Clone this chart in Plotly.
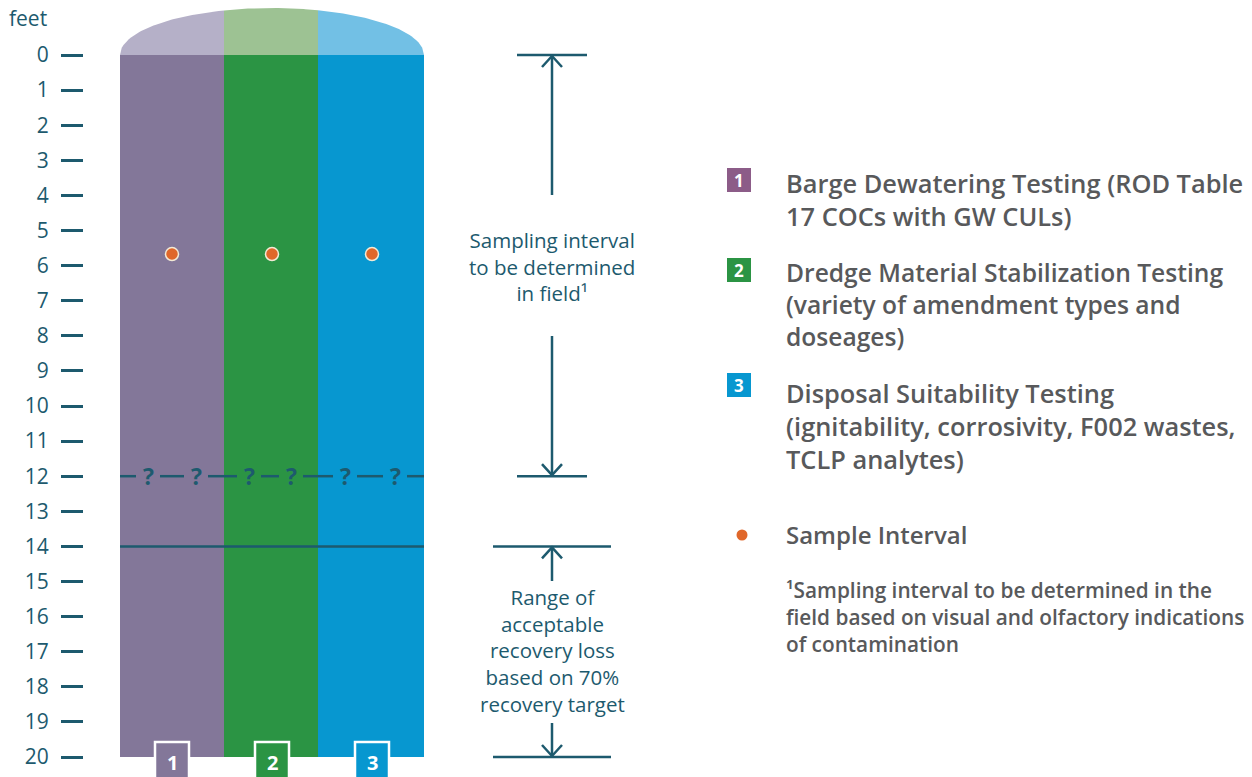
import numpy as np
import plotly.graph_objects as go

# ---------------- data ----------------
depth_ticks = list(range(0, 21))
depth_tick_labels = [str(v) for v in depth_ticks]
core_ids = ["1", "2", "3"]
core_top_ft = [0, 0, 0]
core_bottom_ft = [20, 20, 20]
sample_depth_ft = [5.67, 5.67, 5.67]
uncertain_depth_ft = 12
recovery_depth_ft = 14
total_depth_ft = 20
sampling_interval_top_ft = 0

legend_items = [
    ["Barge Dewatering Testing (ROD Table", "17 COCs with GW CULs)"],
    ["Dredge Material Stabilization Testing", "(variety of amendment types and", "doseages)"],
    ["Disposal Suitability Testing", "(ignitability, corrosivity, F002 wastes,", "TCLP analytes)"],
]
sample_legend = "Sample Interval"
footnote_lines = ["¹Sampling interval to be determined in the",
                  "field based on visual and olfactory indications",
                  "of contamination"]
sampling_text = ["Sampling interval", "to be determined", "in field¹"]
range_text = ["Range of", "acceptable", "recovery loss", "based on 70%", "recovery target"]
axis_title = "feet"

# ---------------- styles / layout ----------------
W, H = 1252, 777
Y0PX, PXFT = 55.0, 35.1
LEFT = 84
def fy(py):
    return (py - Y0PX) / PXFT
def xpaper(px):
    return (px - LEFT) / (W - LEFT)

TEAL = "#1d5a6e"
GRAY = "#58595b"
FONT = "Open Sans"
core_colors = ["#837799", "#2b9444", "#0797d0"]
dome_colors = ["#b5b0c8", "#9dc293", "#72c0e5"]
legend_box_colors = ["#8c5c88", "#2b9444", "#0797d0"]
DOT = "#e0672a"

core_edges = [120, 224, 318, 424]
core_centers = [(core_edges[i] + core_edges[i + 1]) / 2 for i in range(3)]
core_widths = [core_edges[i + 1] - core_edges[i] for i in range(3)]
dot_x = [172, 272, 372]

fig = go.Figure()

# dome
cx = (core_edges[0] + core_edges[-1]) / 2
a = (core_edges[-1] - core_edges[0]) / 2
b = 47 / PXFT
for i in range(3):
    xs = np.linspace(core_edges[i], core_edges[i + 1], 60)
    ys = -b * np.sqrt(np.clip(1 - ((xs - cx) / a) ** 2, 0, 1))
    px_ = list(xs) + [core_edges[i + 1], core_edges[i]]
    py_ = list(ys) + [0, 0]
    fig.add_trace(go.Scatter(x=px_, y=py_, fill="toself", fillcolor=dome_colors[i],
                             line=dict(width=0), mode="lines", hoverinfo="skip", showlegend=False))

# cores
fig.add_trace(go.Bar(x=core_centers, y=[core_bottom_ft[i] - core_top_ft[i] for i in range(3)],
                     base=core_top_ft, width=core_widths, marker=dict(color=core_colors, line=dict(width=0)),
                     showlegend=False, hoverinfo="skip"))

# sample dots
fig.add_trace(go.Scatter(x=dot_x, y=sample_depth_ft, mode="markers",
                         marker=dict(size=13, color=DOT, line=dict(color="#f3ead6", width=1.5)),
                         showlegend=False, hoverinfo="skip"))

shapes = []
annotations = []

# dashed uncertain line with ?
qx = [148, 196, 249, 291, 345, 395]
seg_start = core_edges[0]
for q in qx:
    shapes.append(dict(type="line", x0=seg_start, x1=q - 12, y0=uncertain_depth_ft, y1=uncertain_depth_ft,
                       line=dict(color=TEAL, width=2.5), xref="x", yref="y"))
    annotations.append(dict(x=q, y=uncertain_depth_ft, text="<b>?</b>", showarrow=False,
                            font=dict(family=FONT, size=23, color=TEAL), xanchor="center", yanchor="middle"))
    seg_start = q + 12
shapes.append(dict(type="line", x0=seg_start, x1=core_edges[-1], y0=uncertain_depth_ft, y1=uncertain_depth_ft,
                   line=dict(color=TEAL, width=2.5), xref="x", yref="y"))

# solid recovery line
shapes.append(dict(type="line", x0=core_edges[0], x1=core_edges[-1], y0=recovery_depth_ft, y1=recovery_depth_ft,
                   line=dict(color=TEAL, width=2.5), xref="x", yref="y"))

# bottom numbered boxes
box_w = 34
for i in range(3):
    c = dot_x[i]
    shapes.append(dict(type="rect", x0=c - box_w / 2, x1=c + box_w / 2, y0=fy(742), y1=fy(790),
                       fillcolor=core_colors[i], line=dict(color="white", width=2.5), xref="x", yref="y"))
    annotations.append(dict(x=c, y=fy(762), text="<b>%s</b>" % core_ids[i], showarrow=False,
                            font=dict(family=FONT, size=20, color="white"), xanchor="center", yanchor="middle"))

# arrows
AX = 552
def hline(x0, x1, yft):
    shapes.append(dict(type="line", x0=x0, x1=x1, y0=yft, y1=yft, line=dict(color=TEAL, width=2.5),
                       xref="x", yref="y"))
def vline(y0px, y1px):
    shapes.append(dict(type="line", x0=AX, x1=AX, y0=fy(y0px), y1=fy(y1px), line=dict(color=TEAL, width=2.5),
                       xref="x", yref="y"))
def chevron(tip_px, up):
    d = 11 if up else -11
    path = "M %f,%f L %f,%f L %f,%f" % (AX - 10, fy(tip_px + d), AX, fy(tip_px), AX + 10, fy(tip_px + d))
    shapes.append(dict(type="path", path=path, line=dict(color=TEAL, width=2.5), xref="x", yref="y"))

hline(517, 587, sampling_interval_top_ft)
vline(Y0PX + 1, 195)
chevron(Y0PX + 1, True)
tip12 = Y0PX + PXFT * uncertain_depth_ft - 1
vline(336, tip12)
chevron(tip12, False)
hline(517, 587, uncertain_depth_ft)

hline(493, 611, recovery_depth_ft)
tip14 = Y0PX + PXFT * recovery_depth_ft + 1
vline(tip14, 581)
chevron(tip14, True)
tip20 = Y0PX + PXFT * total_depth_ft - 1
vline(723, tip20)
chevron(tip20, False)
hline(493, 611, total_depth_ft)

annotations.append(dict(x=AX, y=fy(266), text="<br>".join(sampling_text), showarrow=False,
                        xanchor="center", yanchor="middle", align="center",
                        font=dict(family=FONT, size=20.5, color=TEAL)))
annotations.append(dict(x=AX, y=fy(650), text="<br>".join(range_text), showarrow=False,
                        xanchor="center", yanchor="middle", align="center",
                        font=dict(family=FONT, size=20.5, color=TEAL)))

# feet label
annotations.append(dict(x=xpaper(49), xref="paper", y=fy(18), text=axis_title, showarrow=False,
                        xanchor="right", yanchor="middle", font=dict(family=FONT, size=21, color=TEAL)))

# legend
TX = 784
box_tops = [168, 258, 373]
block_centers = [199.5, 304, 426]
block_sizes = [25.4, 24.6, 25.4]
for i in range(3):
    shapes.append(dict(type="rect", x0=727, x1=751, y0=fy(box_tops[i]), y1=fy(box_tops[i] + 24),
                       fillcolor=legend_box_colors[i], line=dict(width=0), xref="x", yref="y"))
    annotations.append(dict(x=739, y=fy(box_tops[i] + 12), text="<b>%s</b>" % core_ids[i], showarrow=False,
                            xanchor="center", yanchor="middle", font=dict(family=FONT, size=17, color="white")))
    annotations.append(dict(x=TX, y=fy(block_centers[i]), text="<br>".join(legend_items[i]), showarrow=False,
                            xanchor="left", yanchor="middle", align="left",
                            font=dict(family=FONT, size=block_sizes[i], color=GRAY, weight=600)))

fig.add_trace(go.Scatter(x=[742], y=[fy(535)], mode="markers", marker=dict(size=11, color=DOT),
                         showlegend=False, hoverinfo="skip"))
annotations.append(dict(x=TX, y=fy(534), text=sample_legend, showarrow=False, xanchor="left", yanchor="middle",
                        font=dict(family=FONT, size=24, color=GRAY, weight=600)))
annotations.append(dict(x=TX, y=fy(617), text="<br>".join(footnote_lines), showarrow=False,
                        xanchor="left", yanchor="middle", align="left",
                        font=dict(family=FONT, size=20.8, color=GRAY, weight=600)))

fig.update_layout(
    width=W, height=H, margin=dict(l=LEFT, r=0, t=0, b=0),
    paper_bgcolor="white", plot_bgcolor="white",
    xaxis=dict(range=[LEFT, W], visible=False, fixedrange=True),
    yaxis=dict(range=[fy(H), fy(0)], tickvals=depth_ticks, ticktext=depth_tick_labels,
               ticks="outside", ticklen=22, tickwidth=2.5, tickcolor=TEAL,
               tickfont=dict(family=FONT, size=21, color=TEAL), ticklabelstandoff=8,
               showgrid=False, zeroline=False, showline=False, fixedrange=True),
    barmode="overlay", bargap=0,
    shapes=shapes, annotations=annotations, showlegend=False,
)
fig.write_html("out.html", config={"displayModeBar": False},
               post_script="document.body.style.margin='0';document.body.style.overflow='hidden';")
